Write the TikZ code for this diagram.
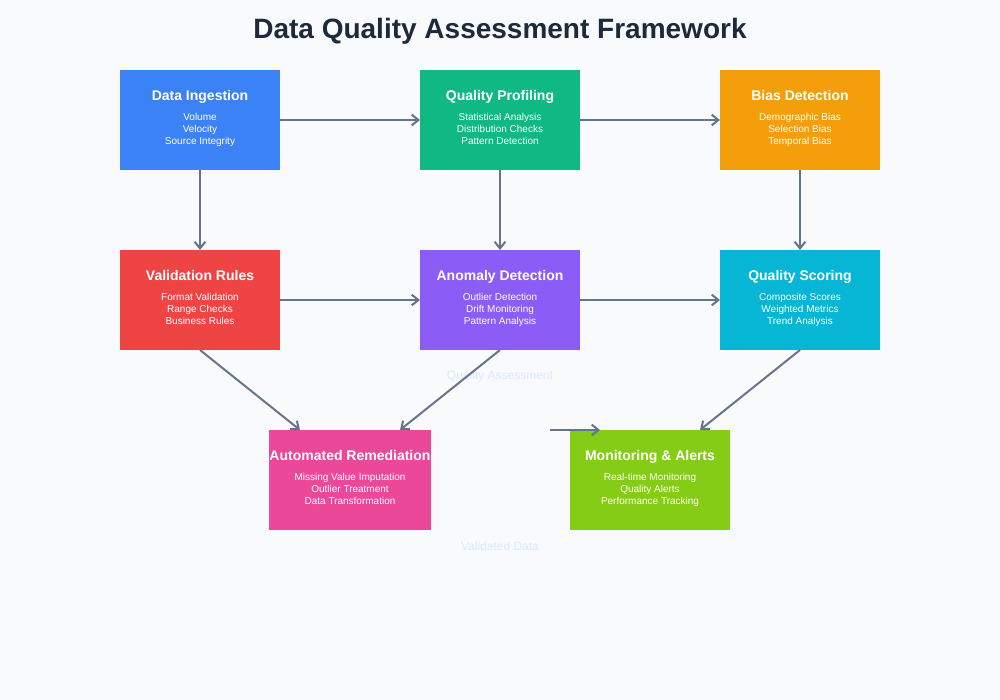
\documentclass[tikz,border=0pt]{standalone}
\usepackage{fontspec}
\setmainfont{Liberation Sans}
\usepackage{tikz}
\usetikzlibrary{positioning, arrows.meta}

\definecolor{bgpage}{HTML}{F8FAFC}
\definecolor{titleink}{HTML}{1E293B}
\definecolor{flowink}{HTML}{64748B}
\definecolor{faintink}{HTML}{DBEAFE}
\definecolor{cIngest}{HTML}{3B82F6}
\definecolor{cProfile}{HTML}{10B981}
\definecolor{cBias}{HTML}{F59E0B}
\definecolor{cValid}{HTML}{EF4444}
\definecolor{cAnomaly}{HTML}{8B5CF6}
\definecolor{cScore}{HTML}{06B6D4}
\definecolor{cRemedy}{HTML}{EC4899}
\definecolor{cMonitor}{HTML}{84CC16}

% title and sub lines of one stage box
\newcommand{\stagetext}[2]{%
	{\bfseries\fontsize{10.5}{12}\selectfont #1}\\[6pt]#2\\[-5pt]}

\tikzset{
	flow/.style={draw=flowink, line width=1.5pt, -{Straight Barb[length=5pt, width=8pt]}}, % the grey connectors
	stage/.style={rectangle, fill=#1, text=white, minimum width=120pt, minimum height=75pt, align=center, inner sep=0pt, outer sep=0pt, font=\fontsize{7.5}{9}\selectfont}, % coloured boxes
	faint/.style={text=faintink, font=\fontsize{9}{11}\selectfont}, % pale labels
	node distance=60pt and 105pt, % gaps between the boxes
}

\begin{document}
\begin{tikzpicture}[x=0.75pt, y=-0.75pt]
	\fill[bgpage] (0,0) rectangle (1000,700);
	\useasboundingbox (0,0) rectangle (1000,700);

	\node[text=titleink, font=\bfseries\fontsize{21}{25}\selectfont] (title) at (500,31) {Data Quality Assessment Framework};

	\node[stage=cIngest] (ingest) at (200,120) {\stagetext{Data Ingestion}{Volume\\Velocity\\Source Integrity}};
	\node[stage=cProfile, right=of ingest] (profile) {\stagetext{Quality Profiling}{Statistical Analysis\\Distribution Checks\\Pattern Detection}};
	\node[stage=cBias, right=of profile] (bias) {\stagetext{Bias Detection}{Demographic Bias\\Selection Bias\\Temporal Bias}};

	\node[stage=cValid, below=of ingest] (valid) {\stagetext{Validation Rules}{Format Validation\\Range Checks\\Business Rules}};
	\node[stage=cAnomaly, below=of profile] (anomaly) {\stagetext{Anomaly Detection}{Outlier Detection\\Drift Monitoring\\Pattern Analysis}};
	\node[stage=cScore, below=of bias] (score) {\stagetext{Quality Scoring}{Composite Scores\\Weighted Metrics\\Trend Analysis}};

	\node[stage=cRemedy] (remedy) at (350,480) {\stagetext{Automated Remediation}{Missing Value Imputation\\Outlier Treatment\\Data Transformation}};
	\node[stage=cMonitor] (monitor) at (650,480) {\stagetext{Monitoring \& Alerts}{Real-time Monitoring\\Quality Alerts\\Performance Tracking}};

	\node[faint] (assess) at (500,376) {Quality Assessment};
	\node[faint] (validated) at (500,546) {Validated Data};
	\coordinate (handoff) at (550,430);

	\draw[flow] (ingest) -- (profile);
	\draw[flow] (profile) -- (bias);
	\draw[flow] (ingest) -- (valid);
	\draw[flow] (profile) -- (anomaly);
	\draw[flow] (bias) -- (score);
	\draw[flow] (valid) -- (anomaly);
	\draw[flow] (anomaly) -- (score);
	\draw[flow] (valid.south) -- ([xshift=-37.5pt]remedy.north);
	\draw[flow] (anomaly.south) -- ([xshift=37.5pt]remedy.north);
	\draw[flow] (score.south) -- ([xshift=37.5pt]monitor.north);
	\draw[flow] (handoff) -- ([xshift=-37.5pt]monitor.north);
\end{tikzpicture}
\end{document}
